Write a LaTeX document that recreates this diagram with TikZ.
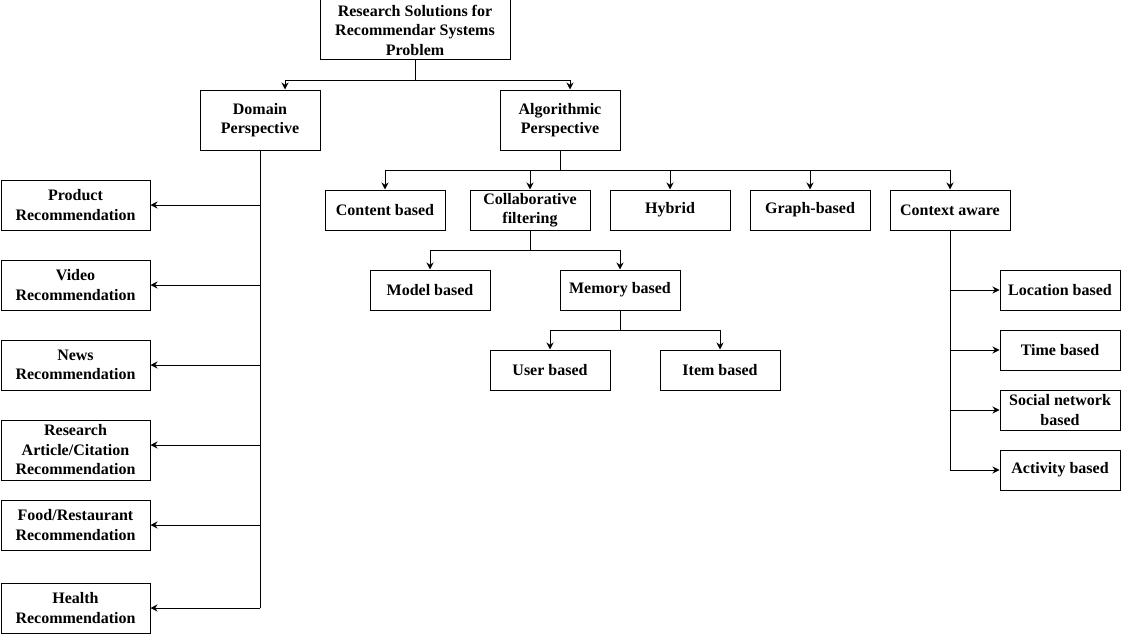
\documentclass[tikz,border=0pt]{standalone}
\usepackage{fontspec}
\setmainfont{Liberation Serif}
\usetikzlibrary{arrows.meta}
\begin{document}
\begin{tikzpicture}[x=1pt,y=-1pt,
  box/.style={draw, line width=1pt, inner sep=0pt, align=center,
    font=\fontsize{16}{19.5}\selectfont\bfseries,
    minimum width=120pt, minimum height=40pt},
  line/.style={line width=1pt},
  arr/.style={line width=1pt, -{Stealth[length=7pt,width=7pt]}}]
\useasboundingbox (0,0) rectangle (1121,634);
% root level
\node[box, minimum width=190pt, minimum height=60pt] (root) at (415,30) {Research Solutions for\\Recommendar Systems\\Problem};
\node[box, minimum height=60pt] (dom) at (260,120) {Domain\\Perspective};
\node[box, minimum height=60pt] (alg) at (560,120) {Algorithmic\\Perspective};
% domain children
\node[box, minimum width=149pt, minimum height=50pt] (prod) at (75.5,205) {Product\\Recommendation};
\node[box, minimum width=149pt, minimum height=50pt] (vid) at (75.5,285) {Video\\Recommendation};
\node[box, minimum width=149pt, minimum height=50pt] (news) at (75.5,365) {News\\Recommendation};
\node[box, minimum width=149pt, minimum height=60pt] (res) at (75.5,450) {Research\\Article/Citation\\Recommendation};
\node[box, minimum width=149pt, minimum height=50pt] (food) at (75.5,525) {Food/Restaurant\\Recommendation};
\node[box, minimum width=149pt, minimum height=50pt] (health) at (75.5,608) {Health\\Recommendation};
% algorithmic children
\node[box] (cont) at (385,210) {Content based};
\node[box] (coll) at (530,210) {Collaborative\\filtering};
\node[box] (hyb) at (670,210) {Hybrid};
\node[box] (graph) at (810,210) {Graph-based};
\node[box] (ctx) at (950,210) {Context aware};
\node[box] (model) at (430,290) {Model based};
\node[box] (mem) at (620,290) {Memory based};
\node[box] (user) at (550,370) {User based};
\node[box] (item) at (720,370) {Item based};
\node[box] (loc) at (1060,290) {Location based};
\node[box] (time) at (1060,350) {Time based};
\node[box] (soc) at (1060,410) {Social network\\based};
\node[box] (act) at (1060,470) {Activity based};
% connectors: root
\coordinate (rh) at (415,80);
\coordinate (rl) at ([xshift=25pt]dom.north);
\coordinate (rr) at ([xshift=10pt]alg.north);
\draw[line] (root.south) -- (rh);
\draw[line] (rh -| rl) -- (rh -| rr);
\draw[arr] (rh -| rl) -- (rl);
\draw[arr] (rh -| rr) -- (rr);
% domain trunk
\coordinate (rese) at ([yshift=5pt]res.east);
\draw[line] (dom.south) -- (dom.south |- health.east);
\draw[arr] (dom.south |- prod.east) -- (prod.east);
\draw[arr] (dom.south |- vid.east) -- (vid.east);
\draw[arr] (dom.south |- news.east) -- (news.east);
\draw[arr] (dom.south |- rese) -- (rese);
\draw[arr] (dom.south |- food.east) -- (food.east);
\draw[arr] (dom.south |- health.east) -- (health.east);
% algorithmic
\coordinate (ah) at (560,170);
\draw[line] (alg.south) -- (ah);
\draw[line] (ah -| cont.north) -- (ah -| ctx.north);
\draw[arr] (ah -| cont.north) -- (cont.north);
\draw[arr] (ah -| coll.north) -- (coll.north);
\draw[arr] (ah -| hyb.north) -- (hyb.north);
\draw[arr] (ah -| graph.north) -- (graph.north);
\draw[arr] (ah -| ctx.north) -- (ctx.north);
% collaborative
\coordinate (ch) at (530,250);
\draw[line] (coll.south) -- (ch);
\draw[line] (ch -| model.north) -- (ch -| mem.north);
\draw[arr] (ch -| model.north) -- (model.north);
\draw[arr] (ch -| mem.north) -- (mem.north);
% memory
\coordinate (mh) at (620,330);
\draw[line] (mem.south) -- (mh);
\draw[line] (mh -| user.north) -- (mh -| item.north);
\draw[arr] (mh -| user.north) -- (user.north);
\draw[arr] (mh -| item.north) -- (item.north);
% context aware
\draw[line] (ctx.south) -- (ctx.south |- act.west);
\draw[arr] (ctx.south |- loc.west) -- (loc.west);
\draw[arr] (ctx.south |- time.west) -- (time.west);
\draw[arr] (ctx.south |- soc.west) -- (soc.west);
\draw[arr] (ctx.south |- act.west) -- (act.west);
\end{tikzpicture}
\end{document}
